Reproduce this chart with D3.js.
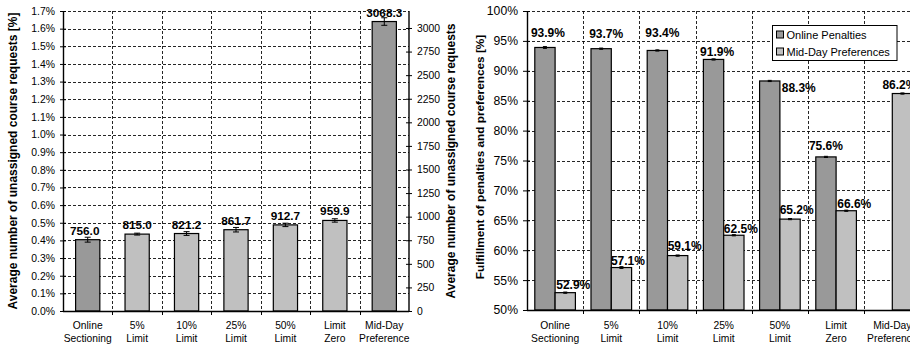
<!DOCTYPE html>
<html>
<head>
<meta charset="utf-8">
<script src="https://cdn.jsdelivr.net/npm/d3@7"></script>
<style>
  html, body { margin: 0; padding: 0; background: #fff; }
  svg { display: block; font-family: "Liberation Sans", Arial, sans-serif; }
</style>
</head>
<body>
<svg id="chart" width="910" height="345"></svg>
<script>
// ---- data ----
const categories = ["Online Sectioning", "5% Limit", "10% Limit", "25% Limit", "50% Limit", "Limit Zero", "Mid-Day Preference"];

// left panel: unassigned course requests (count, with error half-widths)
const unassignedAvg = [756.0, 815.0, 821.2, 861.7, 912.7, 959.9, 3068.3];
const unassignedErr = [26, 10, 20, 24, 18, 18, 40];
const pctTicks = [0, 0.1, 0.2, 0.3, 0.4, 0.5, 0.6, 0.7, 0.8, 0.9, 1.0, 1.1, 1.2, 1.3, 1.4, 1.5, 1.6, 1.7];
const countTicks = [0, 250, 500, 750, 1000, 1250, 1500, 1750, 2000, 2250, 2500, 2750, 3000];

// right panel: fulfillment of penalties and preferences [%]
const seriesNames = ["Online Penalties", "Mid-Day Preferences"];
const onlinePenalties = [93.9, 93.7, 93.4, 91.9, 88.3, 75.6, null];
const midDayPreferences = [52.9, 57.1, 59.1, 62.5, 65.2, 66.6, 86.2];
const onlineErr = [0.15, 0.1, 0.1, 0.1, 0.1, 0.1, null];
const midDayErr = [0.1, 0.15, 0.1, 0.1, 0.1, 0.1, 0.1];
const fulfillTicks = [50, 55, 60, 65, 70, 75, 80, 85, 90, 95, 100];

// ---- styling ----
const DARK = "#999999", LIGHT = "#c0c0c0";
const darkLeft = new Set(["Online Sectioning", "Mid-Day Preference"]);
const seriesFill = { "Online Penalties": DARK, "Mid-Day Preferences": LIGHT };
// label placement tweaks (dx, dy relative to default spot above bar)
const labelNudge = {
  "Online Penalties": [[3, -6], [5, -7], [5, -9], [3.5, 0.5], [29, 15.5], [0, -2.5], [0, 0]],
  "Mid-Day Preferences": [[8, 0.5], [6.5, 1.5], [7, -1.3], [7, 1.3], [6.6, -0.8], [8, 0.9], [-3, -0.2]]
};

const svg = d3.select("#chart");
const gridDash = "3,2";

function twoLines(sel, name) {
  const parts = name.split(" ");
  sel.text(null);
  parts.forEach((p, i) => sel.append("tspan").attr("x", 0).attr("dy", i === 0 ? 0 : 12.5).text(p));
}

// ================= LEFT PANEL =================
(function () {
  const x0 = 63, x1 = 409, yTop = 11, yBot = 311;
  const x = d3.scaleBand().domain(categories).range([x0, x1]);
  const yPct = d3.scaleLinear().domain([0, 1.7]).range([yBot, yTop]);
  const yCnt = d3.scaleLinear().domain([0, 3180]).range([yBot, yTop]);
  const g = svg.append("g");

  // horizontal grid
  g.append("g").selectAll("line").data(pctTicks.filter(t => t > 0)).join("line")
    .attr("x1", x0).attr("x2", x1)
    .attr("y1", d => Math.round(yPct(d)) + 0.5).attr("y2", d => Math.round(yPct(d)) + 0.5)
    .attr("stroke", "#000").attr("stroke-width", 1).attr("stroke-dasharray", gridDash)
    .attr("stroke-opacity", 0.85);
  // vertical grid at category boundaries
  g.append("g").selectAll("line").data(categories.slice(1)).join("line")
    .attr("x1", d => Math.round(x(d)) + 0.5).attr("x2", d => Math.round(x(d)) + 0.5)
    .attr("y1", yTop).attr("y2", yBot)
    .attr("stroke", "#000").attr("stroke-width", 1).attr("stroke-dasharray", gridDash)
    .attr("stroke-opacity", 0.85);

  // bars
  const bw = x.bandwidth() * 0.49;
  g.append("g").selectAll("rect").data(unassignedAvg).join("rect")
    .attr("x", (d, i) => x(categories[i]) + x.bandwidth() / 2 - bw / 2)
    .attr("y", d => yCnt(d))
    .attr("width", bw)
    .attr("height", d => yBot - yCnt(d))
    .attr("fill", (d, i) => darkLeft.has(categories[i]) ? DARK : LIGHT)
    .attr("stroke", "#000").attr("stroke-width", 1.2);

  // error bars
  const eb = g.append("g").attr("stroke", "#000").attr("stroke-width", 1);
  unassignedAvg.forEach((v, i) => {
    const cx = x(categories[i]) + x.bandwidth() / 2;
    const lo = yCnt(v - unassignedErr[i]), hi = yCnt(v + unassignedErr[i]);
    eb.append("line").attr("x1", cx).attr("x2", cx).attr("y1", lo).attr("y2", hi);
    eb.append("line").attr("x1", cx - 3).attr("x2", cx + 3).attr("y1", lo).attr("y2", lo);
    eb.append("line").attr("x1", cx - 3).attr("x2", cx + 3).attr("y1", hi).attr("y2", hi);
  });

  // value labels
  g.append("g").selectAll("text").data(unassignedAvg).join("text")
    .attr("x", (d, i) => x(categories[i]) + x.bandwidth() / 2 + (i === 0 ? -3 : 0))
    .attr("y", d => yCnt(d) - 5)
    .attr("text-anchor", "middle").attr("font-size", 11.8).attr("font-weight", "bold")
    .text(d => d.toFixed(1));

  // left axis
  const axL = g.append("g").attr("transform", `translate(${x0},0)`)
    .call(d3.axisLeft(yPct).tickValues(pctTicks).tickFormat(d => d.toFixed(1) + "%").tickSizeInner(3).tickSizeOuter(0).tickPadding(5));
  axL.selectAll(".tick line").attr("x2", 3).attr("x1", -3);
  axL.selectAll("text").attr("font-size", 10.4).attr("fill", "#000").attr("font-family", "Liberation Sans, Arial, sans-serif");
  axL.select(".domain").attr("stroke", "#000").attr("stroke-width", 1.4);

  // right axis (counts)
  const axR = g.append("g").attr("transform", `translate(${x1},0)`)
    .call(d3.axisRight(yCnt).tickValues(countTicks).tickFormat(d3.format("d")).tickSizeInner(3).tickSizeOuter(0).tickPadding(5));
  axR.selectAll(".tick line").attr("x1", -3).attr("x2", 3);
  axR.selectAll("text").attr("font-size", 10.4).attr("fill", "#000").attr("font-family", "Liberation Sans, Arial, sans-serif");
  axR.select(".domain").attr("stroke", "#000").attr("stroke-width", 1.4).attr("d", `M0,${yTop}V${yBot}`);

  // x axis
  g.append("line").attr("x1", x0).attr("x2", x1).attr("y1", yBot + 0.5).attr("y2", yBot + 0.5)
    .attr("stroke", "#000").attr("stroke-width", 1.4);
  g.append("g").selectAll("line").data(categories.slice(1)).join("line")
    .attr("x1", d => Math.round(x(d)) + 0.5).attr("x2", d => Math.round(x(d)) + 0.5)
    .attr("y1", yBot).attr("y2", yBot + 4).attr("stroke", "#000");
  g.append("g").selectAll("text").data(categories).join("text")
    .attr("transform", d => `translate(${x(d) + x.bandwidth() / 2},${yBot + 18})`)
    .attr("text-anchor", "middle").attr("font-size", 10.3)
    .each(function (d) { twoLines(d3.select(this), d); });

  // axis titles
  g.append("text").attr("transform", `translate(17,${(yTop + yBot) / 2}) rotate(-90)`)
    .attr("text-anchor", "middle").attr("font-size", 12).attr("font-weight", "bold")
    .text("Average number of unassigned course requests [%]");
  g.append("text").attr("transform", `translate(455,${(yTop + yBot) / 2}) rotate(-90)`)
    .attr("text-anchor", "middle").attr("font-size", 12).attr("font-weight", "bold")
    .text("Average number of unassigned course requests");
})();

// ================= RIGHT PANEL =================
(function () {
  const x0 = 527, step = 56.2, yTop = 11, yBot = 310;
  const x = d3.scaleBand().domain(categories).range([x0, x0 + step * categories.length]);
  const xs = d3.scaleBand().domain(seriesNames).range([0, x.bandwidth()]).paddingInner(0).paddingOuter(0.384);
  const y = d3.scaleLinear().domain([50, 100]).range([yBot, yTop]);
  const g = svg.append("g");

  // grid
  g.append("g").selectAll("line").data(fulfillTicks.filter(t => t > 50)).join("line")
    .attr("x1", x0).attr("x2", 910)
    .attr("y1", d => Math.round(y(d)) + 0.5).attr("y2", d => Math.round(y(d)) + 0.5)
    .attr("stroke", "#000").attr("stroke-width", 1).attr("stroke-dasharray", gridDash)
    .attr("stroke-opacity", 0.85);
  g.append("g").selectAll("line").data(categories.slice(1)).join("line")
    .attr("x1", d => Math.round(x(d)) + 0.5).attr("x2", d => Math.round(x(d)) + 0.5)
    .attr("y1", yTop).attr("y2", yBot)
    .attr("stroke", "#000").attr("stroke-width", 1).attr("stroke-dasharray", gridDash)
    .attr("stroke-opacity", 0.85);

  const series = [
    { name: seriesNames[0], values: onlinePenalties, err: onlineErr },
    { name: seriesNames[1], values: midDayPreferences, err: midDayErr }
  ];

  series.forEach(s => {
    const pts = s.values.map((v, i) => ({ v, i, e: s.err[i], cat: categories[i] })).filter(p => p.v != null);
    const sg = g.append("g");
    sg.selectAll("rect").data(pts).join("rect")
      .attr("x", p => x(p.cat) + xs(s.name))
      .attr("y", p => y(p.v))
      .attr("width", xs.bandwidth())
      .attr("height", p => yBot - y(p.v))
      .attr("fill", seriesFill[s.name])
      .attr("stroke", "#000").attr("stroke-width", 1.2);
    pts.forEach(p => {
      const cx = x(p.cat) + xs(s.name) + xs.bandwidth() / 2;
      const lo = y(p.v - p.e), hi = y(p.v + p.e);
      sg.append("line").attr("x1", cx).attr("x2", cx).attr("y1", lo).attr("y2", hi).attr("stroke", "#000").attr("stroke-width", 1.2);
      sg.append("line").attr("x1", cx - 2).attr("x2", cx + 2).attr("y1", lo).attr("y2", lo).attr("stroke", "#000");
      sg.append("line").attr("x1", cx - 2).attr("x2", cx + 2).attr("y1", hi).attr("y2", hi).attr("stroke", "#000");
    });
    sg.selectAll("text").data(pts).join("text")
      .attr("x", p => x(p.cat) + xs(s.name) + xs.bandwidth() / 2 + labelNudge[s.name][p.i][0])
      .attr("y", p => y(p.v) - 4 + labelNudge[s.name][p.i][1])
      .attr("text-anchor", "middle").attr("font-size", 12).attr("font-weight", "bold")
      .text(p => p.v.toFixed(1) + "%");
  });

  // y axis
  const ax = g.append("g").attr("transform", `translate(${x0},0)`)
    .call(d3.axisLeft(y).tickValues(fulfillTicks).tickFormat(d => d + "%").tickSizeInner(4).tickSizeOuter(0).tickPadding(5));
  ax.selectAll(".tick line").attr("x1", -4).attr("x2", 3);
  ax.selectAll("text").attr("font-size", 12.2).attr("fill", "#000").attr("font-family", "Liberation Sans, Arial, sans-serif");
  ax.select(".domain").attr("stroke", "#000").attr("stroke-width", 1.4);

  // x axis
  g.append("line").attr("x1", x0).attr("x2", 910).attr("y1", yBot + 0.5).attr("y2", yBot + 0.5)
    .attr("stroke", "#000").attr("stroke-width", 1.4);
  g.append("g").selectAll("line").data(categories.slice(1)).join("line")
    .attr("x1", d => Math.round(x(d)) + 0.5).attr("x2", d => Math.round(x(d)) + 0.5)
    .attr("y1", yBot).attr("y2", yBot + 4).attr("stroke", "#000");
  g.append("g").selectAll("text").data(categories).join("text")
    .attr("transform", d => `translate(${x(d) + x.bandwidth() / 2},${yBot + 19})`)
    .attr("text-anchor", "middle").attr("font-size", 10.3)
    .each(function (d) { twoLines(d3.select(this), d); });

  // title
  g.append("text").attr("transform", `translate(484,157) rotate(-90)`)
    .attr("text-anchor", "middle").attr("font-size", 11.8).attr("font-weight", "bold")
    .text("Fulfillment of penalties and preferences [%]");

  // legend
  const lg = g.append("g").attr("transform", "translate(772.5,25.5)");
  lg.append("rect").attr("width", 124.5).attr("height", 35).attr("fill", "#fff").attr("stroke", "#000").attr("stroke-width", 1);
  seriesNames.forEach((n, i) => {
    const row = lg.append("g").attr("transform", `translate(4,${9 + i * 17})`);
    row.append("rect").attr("x", 0).attr("y", -3.5).attr("width", 7).attr("height", 7)
      .attr("fill", seriesFill[n]).attr("stroke", "#000").attr("stroke-width", 1);
    row.append("text").attr("x", 10).attr("y", 4).attr("font-size", 11).text(n);
  });
})();
</script>
</body>
</html>
